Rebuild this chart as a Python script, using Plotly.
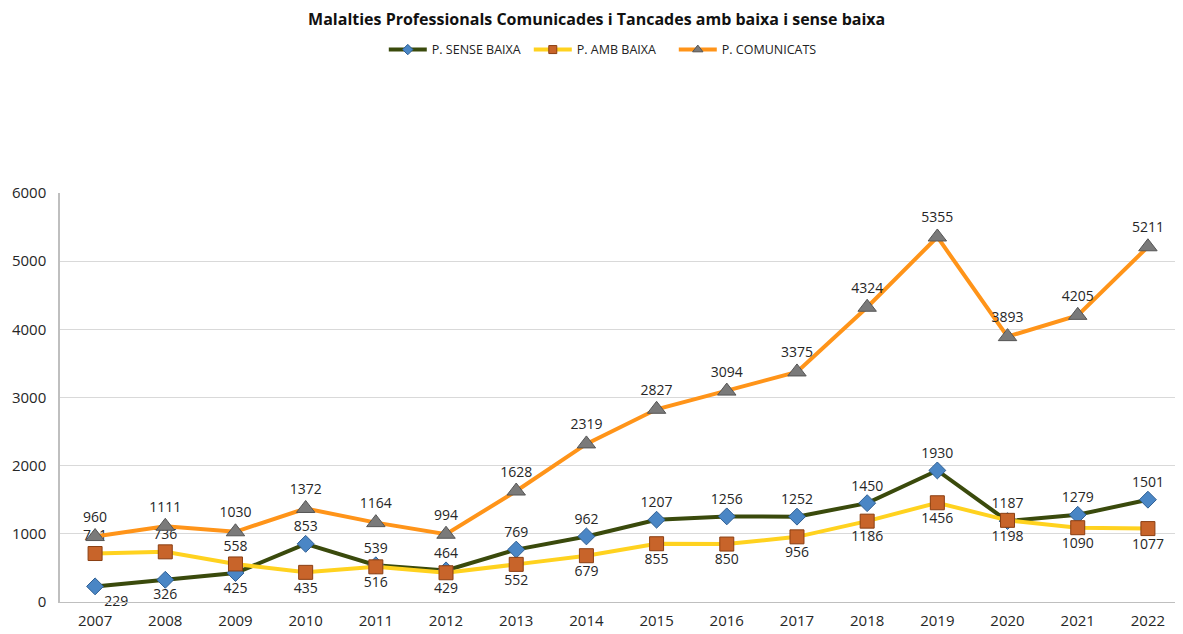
import plotly.graph_objects as go

years = [str(y) for y in range(2007, 2023)]
sense_baixa = [229, 326, 425, 853, 539, 464, 769, 962, 1207, 1256, 1252, 1450, 1930, 1187, 1279, 1501]
amb_baixa = [711, 736, 558, 435, 516, 429, 552, 679, 855, 850, 956, 1186, 1456, 1198, 1090, 1077]
comunicats = [960, 1111, 1030, 1372, 1164, 994, 1628, 2319, 2827, 3094, 3375, 4324, 5355, 3893, 4205, 5211]
series_names = ["P. SENSE BAIXA", "P. AMB BAIXA", "P. COMUNICATS"]

sense_pos = ["bottom right", "bottom center", "bottom center"] + ["top center"] * 13
amb_pos = ["top center"] * 3 + ["bottom center"] * 13
com_pos = ["top center"] * 16

label_font = dict(family="Open Sans, DejaVu Sans, sans-serif", size=14, color="#262626")

styles = [
    dict(line=dict(color="#3a4a0c", width=4),
         marker=dict(symbol="diamond", size=13, color="#4a86c5", line=dict(color="#2f5f94", width=1))),
    dict(line=dict(color="#ffd21f", width=4),
         marker=dict(symbol="square", size=14, color="#c8642a", line=dict(color="#8a3e12", width=1))),
    dict(line=dict(color="#ff9419", width=4),
         marker=dict(symbol="triangle-up", size=16, color="#7a7a7a", line=dict(color="#555555", width=1))),
]
legend_markers = [
    dict(symbol="diamond", size=8, color="#4a86c5", line=dict(color="#2f5f94", width=1)),
    dict(symbol="square", size=8, color="#c8642a", line=dict(color="#8a3e12", width=1)),
    dict(symbol="triangle-up", size=9, color="#7a7a7a", line=dict(color="#555555", width=1)),
]

fig = go.Figure()
for vals, pos, st, name in zip([sense_baixa, amb_baixa, comunicats], [sense_pos, amb_pos, com_pos], styles, series_names):
    fig.add_trace(go.Scatter(
        x=years, y=vals, name=name, mode="lines+markers+text", showlegend=False,
        line=st["line"], marker=st["marker"],
        text=[str(v) for v in vals], textposition=pos, textfont=label_font, cliponaxis=False,
    ))
for st, lm, name in zip(styles, legend_markers, series_names):
    fig.add_trace(go.Scatter(
        x=[None], y=[None], name=name, mode="lines+markers",
        line=st["line"], marker=lm, showlegend=True,
    ))

# page body has an 8px margin: figure is drawn from (8, 8)
fig.update_layout(
    width=1175, height=626,
    margin=dict(l=52, r=0, t=185, b=32),
    paper_bgcolor="white", plot_bgcolor="white",
    title=dict(text="<b>Malalties Professionals Comunicades i Tancades amb baixa i sense baixa</b>",
               x=0.501, xanchor="center", y=0.981, yanchor="middle",
               font=dict(family="Open Sans, sans-serif", size=16, color="#111111")),
    legend=dict(orientation="h", x=0.482, xanchor="center", yref="container", y=0.933, yanchor="middle",
                font=dict(family="Open Sans, sans-serif", size=12.5, color="#222222"),
                itemwidth=38, entrywidth=92, traceorder="normal"),
)
fig.update_xaxes(type="category", range=[-0.5, 15.5], showgrid=False, automargin=False,
                 showline=True, linecolor="#bfbfbf", linewidth=1, ticks="", ticklabelstandoff=5,
                 tickfont=dict(family="Open Sans, sans-serif", size=15, color="#262626"))
fig.update_yaxes(range=[0, 6000], dtick=1000, showgrid=True, gridcolor="#d9d9d9", gridwidth=1, automargin=False,
                 showline=True, linecolor="#bfbfbf", linewidth=1.5, zeroline=False, ticks="", ticklabelstandoff=9,
                 tickfont=dict(family="Open Sans, sans-serif", size=15, color="#262626"))

fig.write_html("out.html")
